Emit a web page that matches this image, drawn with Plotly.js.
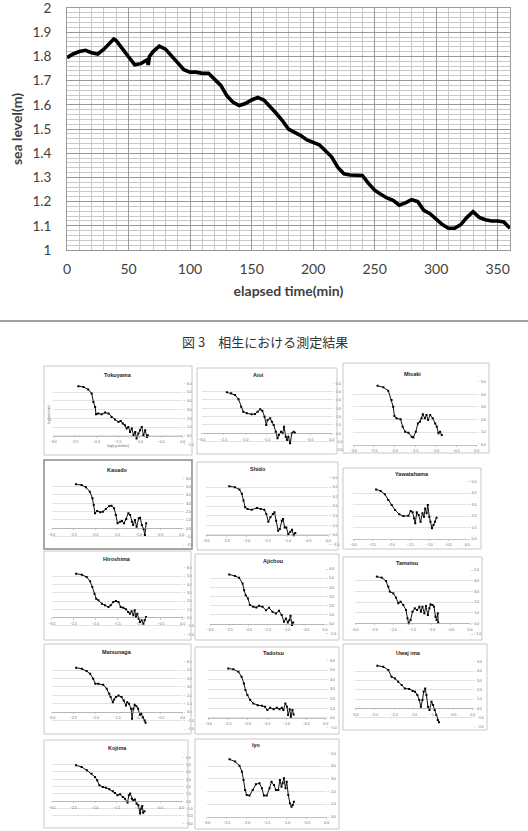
<!DOCTYPE html>
<html><head><meta charset="utf-8">
<script src="https://cdn.plot.ly/plotly-3.0.1.min.js"></script>
<style>html,body{margin:0;padding:0;background:#fff;} #chart{width:528px;height:831px;}</style>
</head><body><div id="chart"></div>
<script>
// ---------- main chart data ----------
const elapsedMin = [0,5,10,15,20,25,30,35,38,40,45,50,55,60,65,66,67,70,75,80,85,90,95,100,105,110,115,120,125,130,135,140,145,150,155,160,165,170,175,180,185,190,195,200,205,210,215,220,225,230,235,240,245,250,255,260,265,270,275,280,285,290,295,300,305,310,315,320,325,330,335,340,345,350,355,360];
const seaLevel   = [1.795,1.81,1.82,1.825,1.815,1.81,1.83,1.855,1.872,1.865,1.83,1.80,1.765,1.77,1.785,1.765,1.80,1.82,1.842,1.83,1.80,1.77,1.745,1.735,1.735,1.73,1.73,1.705,1.68,1.637,1.61,1.597,1.605,1.62,1.63,1.62,1.595,1.565,1.535,1.50,1.486,1.473,1.455,1.445,1.435,1.41,1.385,1.342,1.315,1.31,1.31,1.308,1.275,1.247,1.23,1.215,1.205,1.185,1.195,1.208,1.20,1.164,1.15,1.128,1.105,1.09,1.09,1.105,1.135,1.158,1.135,1.125,1.12,1.12,1.116,1.09];

// ---------- small spectrum panels: log(cycle/min) vs log(cm^2/min) ----------
const tokuyamaX = [-2.42,-2.30,-2.19,-2.11,-2.07,-2.03,-2.01,-1.96,-1.88,-1.80,-1.72,-1.65,-1.57,-1.49,-1.44,-1.39,-1.34,-1.30,-1.26,-1.22,-1.18,-1.14,-1.10,-1.07,-1.03,-0.99,-0.95,-0.91,-0.87,-0.83,-0.81];
const tokuyamaY = [5.67,5.59,5.29,4.83,3.88,3.31,2.47,2.55,2.47,2.66,2.55,2.17,1.86,1.60,1.71,1.41,1.22,0.84,1.03,0.46,0.84,0.08,0.46,-0.30,0.27,0.65,1.03,0.08,0.65,-0.11,0.08];
const aioiX = [-2.42,-2.32,-2.23,-2.15,-2.09,-2.04,-1.96,-1.85,-1.77,-1.71,-1.65,-1.60,-1.55,-1.51,-1.48,-1.42,-1.38,-1.34,-1.29,-1.25,-1.22,-1.17,-1.13,-1.10,-1.06,-1.03,-1.00,-0.96,-0.92,-0.88,-0.85];
const aioiY = [4.92,4.80,4.60,4.08,3.20,2.60,2.40,2.28,2.32,2.60,2.88,2.72,2.00,1.00,1.60,1.80,1.40,1.00,0.20,-0.60,-0.20,0.20,0.00,0.80,-0.40,-0.80,-0.40,-1.20,0.00,0.20,0.08];
const misakiX = [-2.41,-2.27,-2.15,-2.07,-2.03,-2.00,-1.95,-1.85,-1.80,-1.74,-1.66,-1.58,-1.54,-1.48,-1.43,-1.38,-1.34,-1.31,-1.26,-1.22,-1.18,-1.13,-1.07,-1.01,-0.97,-0.93,-0.89,-0.85];
const misakiY = [4.68,4.55,4.29,3.54,3.02,2.28,2.09,2.01,1.43,1.03,0.95,0.63,0.58,1.03,1.69,1.83,2.09,2.41,2.09,2.35,1.96,2.35,2.09,1.69,1.43,0.90,1.03,0.77];
const kasadoX = [-2.44,-2.31,-2.21,-2.12,-2.06,-2.03,-2.00,-1.95,-1.88,-1.82,-1.75,-1.67,-1.62,-1.56,-1.52,-1.48,-1.42,-1.38,-1.33,-1.28,-1.23,-1.19,-1.15,-1.12,-1.08,-1.04,-0.99,-0.96,-0.92,-0.88,-0.85,-0.82];
const kasadoY = [5.28,5.20,4.92,4.40,3.60,2.80,1.80,2.08,1.92,2.00,2.32,2.68,2.72,2.40,1.60,0.60,0.80,0.88,0.60,1.12,1.80,1.60,0.80,0.40,1.00,0.20,1.20,1.28,0.40,-0.08,-0.80,0.60];
const shidoX = [-2.43,-2.29,-2.18,-2.12,-2.08,-2.04,-1.98,-1.88,-1.75,-1.66,-1.57,-1.52,-1.47,-1.42,-1.36,-1.32,-1.28,-1.23,-1.19,-1.14,-1.11,-1.07,-1.03,-0.98,-0.93,-0.89,-0.85,-0.81];
const shidoY = [5.10,5.00,4.75,4.30,3.60,2.90,2.70,2.64,2.82,2.70,2.64,2.18,1.37,1.83,2.18,2.36,1.48,0.42,0.60,1.48,1.65,0.77,0.77,0.07,0.32,0.53,-0.04,0.18];
const yawatahamaX = [-2.40,-2.28,-2.17,-2.08,-1.99,-1.90,-1.79,-1.68,-1.55,-1.49,-1.44,-1.40,-1.37,-1.33,-1.28,-1.23,-1.18,-1.14,-1.11,-1.07,-1.04,-1.00,-0.97,-0.93,-0.89,-0.85,-0.81];
const yawatahamaY = [4.33,4.19,3.90,3.40,2.97,2.53,2.15,2.00,2.03,2.44,2.33,1.80,1.37,2.33,2.09,1.51,2.24,1.95,2.67,2.24,2.97,1.95,1.51,0.93,1.22,1.51,1.86];
const hiroshimaX = [-2.44,-2.31,-2.20,-2.12,-2.07,-2.02,-1.98,-1.93,-1.85,-1.78,-1.70,-1.65,-1.59,-1.53,-1.47,-1.42,-1.36,-1.30,-1.25,-1.21,-1.17,-1.13,-1.10,-1.07,-1.04,-1.01,-0.98,-0.94,-0.90,-0.87,-0.84];
const hiroshimaY = [5.28,5.16,4.88,4.36,3.68,2.88,2.28,2.08,1.68,1.48,1.28,1.48,1.88,2.00,1.88,1.28,1.20,1.00,0.68,0.48,0.76,0.28,0.88,0.08,0.48,-0.12,-0.52,-0.32,-0.72,-0.32,0.08];
const ajichouX = [-2.50,-2.35,-2.24,-2.15,-2.11,-2.07,-2.01,-1.96,-1.87,-1.79,-1.72,-1.63,-1.54,-1.46,-1.37,-1.28,-1.20,-1.13,-1.07,-1.02,-0.97,-0.93,-0.90,-0.86,-0.83];
const ajichouY = [5.40,5.25,5.04,4.42,3.70,3.15,2.79,2.07,1.88,1.81,1.99,1.88,1.52,1.78,1.34,1.16,1.45,0.98,0.25,0.62,0.18,0.43,0.91,-0.11,0.18];
const tametsuX = [-2.43,-2.30,-2.19,-2.13,-2.09,-2.00,-1.93,-1.87,-1.81,-1.74,-1.67,-1.63,-1.60,-1.55,-1.50,-1.44,-1.38,-1.32,-1.28,-1.24,-1.19,-1.15,-1.10,-1.06,-1.03,-0.98,-0.94,-0.90,-0.87,-0.84,-0.83];
const tametsuY = [4.38,4.28,3.97,3.44,2.97,2.81,2.41,1.88,2.03,1.72,1.25,0.47,0.00,0.31,1.09,1.41,1.25,1.56,1.09,1.56,0.94,1.63,0.78,1.41,1.78,1.72,1.56,0.63,0.31,0.94,0.09];
const matsunagaX = [-2.44,-2.31,-2.20,-2.12,-2.05,-2.00,-1.93,-1.82,-1.74,-1.68,-1.65,-1.60,-1.57,-1.53,-1.47,-1.40,-1.35,-1.30,-1.27,-1.23,-1.18,-1.16,-1.13,-1.10,-1.06,-1.02,-0.98,-0.95,-0.91,-0.87,-0.85];
const matsunagaY = [5.28,5.16,4.88,4.56,3.97,3.37,3.37,3.25,2.78,2.18,1.79,1.19,1.51,1.79,1.98,1.79,1.39,0.79,1.19,0.99,0.40,-0.79,0.40,0.87,0.71,0.40,-0.32,-0.20,-0.60,-0.99,-1.27];
const tadotsuX = [-2.49,-2.36,-2.23,-2.15,-2.09,-2.05,-2.00,-1.93,-1.85,-1.74,-1.63,-1.55,-1.49,-1.42,-1.33,-1.25,-1.18,-1.12,-1.08,-1.03,-0.99,-0.96,-0.92,-0.89,-0.85,-0.82];
const tadotsuY = [5.19,5.09,4.84,4.32,3.61,2.91,2.39,1.86,1.51,1.33,1.26,1.16,0.81,1.05,0.91,1.05,0.91,1.05,0.81,1.51,1.16,0.28,0.91,0.11,0.81,0.35];
const uwajimaX = [-2.43,-2.28,-2.15,-2.07,-1.98,-1.90,-1.81,-1.73,-1.62,-1.53,-1.47,-1.41,-1.36,-1.32,-1.28,-1.25,-1.21,-1.18,-1.14,-1.10,-1.05,-1.01,-0.97,-0.93,-0.89,-0.86];
const uwajimaY = [4.57,4.46,4.11,3.39,3.21,2.86,2.50,2.14,2.07,1.86,1.79,1.43,0.89,0.18,0.89,1.79,2.14,1.43,0.18,-0.18,0.71,0.36,-0.18,-0.71,-1.25,-1.50];
const kojimaX = [-2.44,-2.31,-2.19,-2.08,-2.00,-1.95,-1.90,-1.82,-1.75,-1.67,-1.59,-1.54,-1.48,-1.42,-1.36,-1.31,-1.25,-1.22,-1.19,-1.15,-1.12,-1.08,-1.04,-1.00,-0.96,-0.94,-0.91,-0.89,-0.86];
const kojimaY = [4.91,4.68,4.23,3.77,3.32,2.86,2.18,1.95,1.86,1.64,1.36,1.14,0.82,0.95,0.59,0.36,-0.18,0.82,1.05,0.36,0.14,0.23,-0.32,-0.55,-1.68,-1.00,-0.64,-1.55,-1.36];
const iyoX = [-2.43,-2.29,-2.18,-2.12,-2.08,-2.04,-2.00,-1.93,-1.85,-1.77,-1.68,-1.62,-1.57,-1.50,-1.43,-1.38,-1.32,-1.27,-1.21,-1.17,-1.13,-1.10,-1.07,-1.03,-1.00,-0.96,-0.92,-0.88,-0.85,-0.82];
const iyoY = [4.53,4.35,4.03,3.56,2.91,2.12,1.73,1.68,2.12,2.57,2.64,2.25,1.68,1.68,2.25,2.77,2.51,2.12,2.12,2.91,2.38,2.64,3.04,2.25,2.77,1.73,1.07,0.81,0.94,1.20];

const stationNames = ['Tokuyama','Aioi','Misaki','Kasado','Shido','Yawatahama','Hiroshima','Ajichou','Tametsu','Matsunaga','Tadotsu','Uwaj ima','Kojima','Iyo'];
const stationX = [tokuyamaX,aioiX,misakiX,kasadoX,shidoX,yawatahamaX,hiroshimaX,ajichouX,tametsuX,matsunagaX,tadotsuX,uwajimaX,kojimaX,iyoX];
const stationY = [tokuyamaY,aioiY,misakiY,kasadoY,shidoY,yawatahamaY,hiroshimaY,ajichouY,tametsuY,matsunagaY,tadotsuY,uwajimaY,kojimaY,iyoY];
const stationYRange = [[-1,6],[-2,6],[0,5],[-2,6],[-1,6],[0,5],[-2,6],[-1,6],[-1,5],[-2,6],[-1,6],[-2,5],[-3,6],[0,5]];

// ---------- layout geometry (pixels) ----------
const W = 528, H = 831;
const px = p => p / W, py = p => 1 - p / H;
// box [l,t,r,b], plot x px [at -3, at 0], plot y px [top, bottom], title [x,y]
const geom = [
  {box:[44,366,192,455], xp:[53.3,182.7], yp:[383.3,444.7], tt:[118,375]},
  {box:[197,368,337,454], xp:[201.7,331.7], yp:[383.3,450], tt:[258,375]},
  {box:[343,363,489,453], xp:[353.3,476.7], yp:[381.7,444.7], tt:[412,374]},
  {box:[44,460,192,549], xp:[51.7,181.7], yp:[478.3,545], tt:[117,470], dark:true},
  {box:[197,462,338,550], xp:[206,328.3], yp:[477.7,544.3], tt:[258,469]},
  {box:[343,468,481,549], xp:[353.3,467.3], yp:[481.7,539], tt:[412,474]},
  {box:[44,551,191,640], xp:[51.7,182.7], yp:[567.7,634.3], tt:[117,559]},
  {box:[195,554,339,640], xp:[210,325], yp:[569,633.3], tt:[273,561]},
  {box:[343,557,482,640], xp:[355,470], yp:[570,634], tt:[407,563]},
  {box:[44,644,191,734], xp:[51.7,182.7], yp:[661.7,729], tt:[117,652]},
  {box:[195,647,339,734], xp:[208.3,325.7], yp:[660.7,727.3], tt:[273,653]},
  {box:[343,644,487,730], xp:[355,472.7], yp:[661.7,727], tt:[408,653]},
  {box:[44,740,188,828], xp:[51.7,181.7], yp:[757.3,823.3], tt:[117,748]},
  {box:[195,739,339,829], xp:[206.7,326.7], yp:[753.3,817], tt:[256,745]}
];

const mainFont = 'Lato, "Open Sans", sans-serif';
const data = [{
  x: elapsedMin, y: seaLevel, type: 'scatter', mode: 'lines',
  line: {color: '#000', width: 3.6}, xaxis: 'x', yaxis: 'y', hoverinfo: 'skip'
}];

const layout = {
  width: W, height: H, margin: {l:0, r:0, t:0, b:0},
  paper_bgcolor: '#fff', plot_bgcolor: '#fff', showlegend: false,
  xaxis: {
    domain: [px(67), px(510)], range: [0, 360], anchor: 'y', dtick: 50, tick0: 0,
    showgrid: true, gridcolor: '#9a9a9a', gridwidth: 1,
    minor: {dtick: 10, showgrid: true, gridcolor: '#c8c8c8', gridwidth: 1},
    showline: true, linecolor: '#9a9a9a', mirror: true, zeroline: false,
    ticks: 'outside', ticklen: 6, tickcolor: 'rgba(0,0,0,0)', ticklabeloverflow: 'allow',
    tickfont: {family: mainFont, size: 14, color: '#404040'},
    title: {text: '<b>elapsed time(min)</b>', font: {family: mainFont, size: 14, color: '#404040'}, standoff: 10}
  },
  yaxis: {
    domain: [py(250), py(8)], range: [1, 2.00002], anchor: 'x', dtick: 0.1, tick0: 1,
    showgrid: true, gridcolor: '#9a9a9a', gridwidth: 1,
    minor: {dtick: 0.02, showgrid: true, gridcolor: '#c8c8c8', gridwidth: 1},
    showline: true, linecolor: '#9a9a9a', mirror: true, zeroline: false,
    ticks: 'outside', ticklen: 12, tickcolor: 'rgba(0,0,0,0)', ticklabeloverflow: 'allow',
    tickfont: {family: mainFont, size: 13.5, color: '#404040'},
    title: {text: '<b>sea level(m)</b>', font: {family: mainFont, size: 14, color: '#404040'}, standoff: 6}
  },
  shapes: [
    {type: 'line', xref: 'paper', yref: 'paper', x0: 0, x1: 1, y0: py(321), y1: py(321), line: {color: '#808080', width: 1.5}}
  ],
  annotations: [
    {text: '図 3　相生における測定結果', xref: 'paper', yref: 'paper', x: px(265), y: py(341),
     xanchor: 'center', yanchor: 'middle', showarrow: false,
     font: {family: '"Noto Sans CJK JP", sans-serif', size: 13, color: '#333'}}
  ]
};

const smallFont = '"Liberation Sans", Arial, sans-serif';
stationNames.forEach((name, i) => {
  const n = i + 2, g = geom[i], yr = stationYRange[i];
  const zeroPx = g.yp[0] + (yr[1] - 0) / (yr[1] - yr[0]) * (g.yp[1] - g.yp[0]);
  data.push({
    x: stationX[i], y: stationY[i], type: 'scatter', mode: 'lines+markers',
    line: {color: '#111', width: 1}, marker: {color: '#000', size: 2, symbol: 'square'},
    xaxis: 'x' + n, yaxis: 'y' + n, hoverinfo: 'skip'
  });
  layout['xaxis' + n] = {
    domain: [px(g.xp[0]), px(g.xp[1])], range: [-3, 0], anchor: 'free', position: py(zeroPx),
    dtick: 0.5, tick0: -3, tickformat: '.1f', showgrid: false, zeroline: false,
    showline: true, linecolor: '#999', linewidth: 0.6, ticks: 'outside', ticklen: 1.5, tickcolor: '#999', tickwidth: 0.5,
    tickfont: {family: smallFont, size: 3.5, color: '#666'}, ticklabelstandoff: 1,
    title: i === 0 ? {text: 'log(cycle/min)', font: {family: smallFont, size: 3.5, color: '#666'}, standoff: 1} : {text: ''}
  };
  layout['yaxis' + n] = {
    domain: [py(g.yp[1]), py(g.yp[0])], range: yr, anchor: 'x' + n, side: 'right',
    dtick: 1, tick0: 0, tickformat: '.1f', showgrid: true, gridcolor: '#cfcfcf', gridwidth: 0.6,
    zeroline: false, showline: false, ticks: 'outside', ticklen: 1.5, tickcolor: '#aaa', tickwidth: 0.5,
    tickfont: {family: smallFont, size: 3.5, color: '#666'}, ticklabelstandoff: 1
  };
  layout.shapes.push({type: 'rect', xref: 'paper', yref: 'paper',
    x0: px(g.box[0]), x1: px(g.box[2]), y0: py(g.box[3]), y1: py(g.box[1]),
    line: {color: g.dark ? '#8a8a8a' : '#c8c8c8', width: g.dark ? 1.5 : 1}});
  layout.annotations.push({text: '<b>' + name + '</b>', xref: 'paper', yref: 'paper',
    x: px(g.tt[0]), y: py(g.tt[1]), xanchor: 'center', yanchor: 'middle', showarrow: false,
    font: {family: smallFont, size: 5.5, color: '#222'}});
  if (i === 0) {
    layout.annotations.push({text: 'log(cm²/min)', xref: 'paper', yref: 'paper',
      x: px(49), y: py(415), xanchor: 'center', yanchor: 'middle', showarrow: false, textangle: -90,
      font: {family: smallFont, size: 3.5, color: '#666'}});
  }
});

Plotly.newPlot('chart', data, layout, {staticPlot: true, displayModeBar: false});
</script></body></html>
